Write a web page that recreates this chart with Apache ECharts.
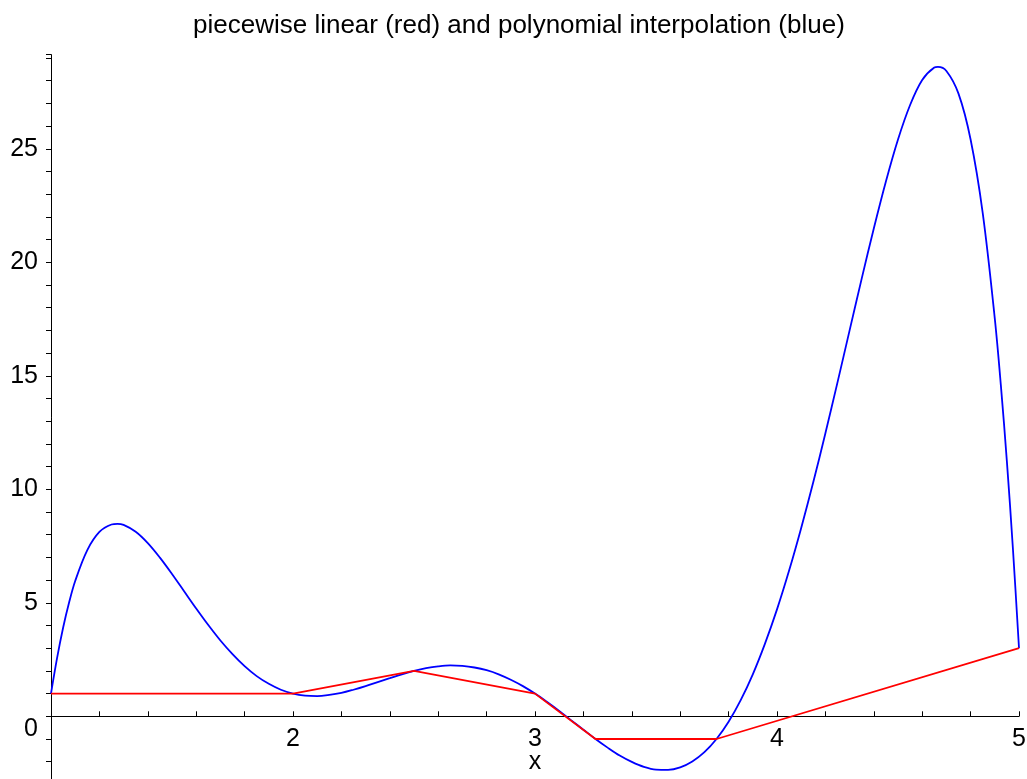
<!DOCTYPE html>
<html>
<head>
<meta charset="utf-8">
<title>piecewise linear (red) and polynomial interpolation (blue)</title>
<script src="https://cdn.jsdelivr.net/npm/echarts@6/dist/echarts.min.js"></script>
<style>
  html, body { margin: 0; padding: 0; background: #fff; }
  #chart { width: 1027px; height: 779px; }
</style>
</head>
<body>
<div id="chart"></div>
<script>
// interpolation nodes (red, piecewise linear)
const nodeX = [1, 2, 2.5, 3, 3.25, 3.75, 5]
const nodeY = [1, 1, 2, 1, -1, -1, 3]

// blue curve
const polyX = [1, 1.025, 1.05, 1.075, 1.1, 1.15, 1.2, 1.25, 1.275, 1.3, 1.35, 1.4, 1.45,
  1.5, 1.55, 1.6, 1.65, 1.7, 1.75, 1.8, 1.85, 1.9, 1.95,
  2, 2.05, 2.1, 2.15, 2.2, 2.25, 2.3, 2.35, 2.4, 2.45,
  2.5, 2.55, 2.6, 2.65, 2.7, 2.75, 2.8, 2.85, 2.9, 2.95,
  3, 3.05, 3.1, 3.15, 3.2, 3.25, 3.3, 3.35, 3.4, 3.45,
  3.5, 3.55, 3.6, 3.65, 3.7, 3.75, 3.8, 3.85, 3.9, 3.95,
  4, 4.05, 4.1, 4.15, 4.2, 4.25, 4.3, 4.35, 4.4, 4.45,
  4.5, 4.55, 4.6, 4.65, 4.665, 4.7, 4.75, 4.8, 4.85, 4.9, 4.925, 4.95, 4.975, 5]
const polyY = [1, 2.56, 3.9, 5.02, 5.96, 7.32, 8.12, 8.45, 8.48, 8.43, 8.13, 7.63, 6.99,
  6.27, 5.51, 4.75, 4.02, 3.34, 2.74, 2.21, 1.77, 1.43, 1.17,
  1, 0.91, 0.89, 0.94, 1.03, 1.17, 1.33, 1.51, 1.68, 1.85,
  2, 2.12, 2.2, 2.24, 2.22, 2.15, 2.03, 1.85, 1.61, 1.33,
  1, 0.63, 0.24, -0.18, -0.59, -1, -1.38, -1.73, -2.01, -2.23,
  -2.35, -2.36, -2.25, -1.99, -1.58, -1, -0.24, 0.71, 1.85, 3.19,
  4.71, 6.42, 8.3, 10.32, 12.47, 14.71, 17.0, 19.28, 21.49, 23.56,
  25.41, 26.93, 28.03, 28.58, 28.61, 28.43, 27.43, 25.41, 22.18, 17.52, 14.59, 11.22, 7.36, 3]

const xLabels = [2, 3, 4, 5]
const yLabels = [0, 5, 10, 15, 20, 25]

const font = "'Liberation Sans', Arial, sans-serif"

const chart = echarts.init(document.getElementById('chart'))

const option = {
  animation: false,
  title: {
    text: 'piecewise linear (red) and polynomial interpolation (blue)',
    left: 188,
    top: 8,
    textStyle: { fontFamily: font, fontSize: 26, fontWeight: 'normal', color: '#000' }
  },
  grid: [
    // plotting area
    { left: 51, right: 8, top: 54.6, bottom: -5.4, outerBoundsMode: 'none' },
    // same width, bottom edge sits on y = 0: carries the x axis
    { left: 51, right: 8, top: 54.6, bottom: 62.7, outerBoundsMode: 'none' }
  ],
  xAxis: [
    {
      gridIndex: 0,
      type: 'value',
      min: 1,
      max: 5,
      show: false
    },
    {
      gridIndex: 1,
      type: 'value',
      min: 1,
      max: 5,
      interval: 0.2,
      name: 'x',
      nameLocation: 'middle',
      nameGap: 33,
      nameMoveOverlap: false,
      nameTextStyle: { fontFamily: font, fontSize: 25, color: '#000' },
      axisLine: { onZero: false, lineStyle: { color: '#000', width: 1 } },
      axisTick: { show: true, inside: true, length: 5, lineStyle: { color: '#000' } },
      axisLabel: {
        margin: 10,
        fontFamily: font,
        fontSize: 25,
        color: '#000',
        formatter: v => {
          const r = Math.round(v * 1000) / 1000
          return xLabels.includes(r) ? String(r) : ''
        }
      },
      splitLine: { show: false }
    }
  ],
  yAxis: [
    {
      gridIndex: 0,
      type: 'value',
      min: -3,
      max: 29.15,
      interval: 1,
      axisLine: { onZero: false, lineStyle: { color: '#000', width: 1 } },
      axisTick: { show: true, inside: false, length: 5, lineStyle: { color: '#000' } },
      axisLabel: {
        margin: 13,
        fontFamily: font,
        fontSize: 25,
        color: '#000',
        formatter: v => {
          const r = Math.round(v * 1000) / 1000
          if (r === 0) return '{zero|0}'
          return yLabels.includes(r) ? String(r) : ''
        },
        rich: {
          zero: { fontFamily: font, fontSize: 25, color: '#000', padding: [26, 0, 0, 0] }
        }
      },
      splitLine: { show: false }
    },
    {
      gridIndex: 1,
      type: 'value',
      min: 0,
      max: 1,
      show: false
    }
  ],
  series: [
    {
      name: 'polynomial',
      type: 'line',
      xAxisIndex: 0,
      yAxisIndex: 0,
      data: polyX.map((x, i) => [x, polyY[i]]),
      smooth: 0.35,
      showSymbol: false,
      lineStyle: { color: '#0000ff', width: 1.8 }
    },
    {
      name: 'piecewise linear',
      type: 'line',
      xAxisIndex: 0,
      yAxisIndex: 0,
      data: nodeX.map((x, i) => [x, nodeY[i]]),
      showSymbol: false,
      lineStyle: { color: '#ff0000', width: 1.8 }
    }
  ]
}

chart.setOption(option)
</script>
</body>
</html>
